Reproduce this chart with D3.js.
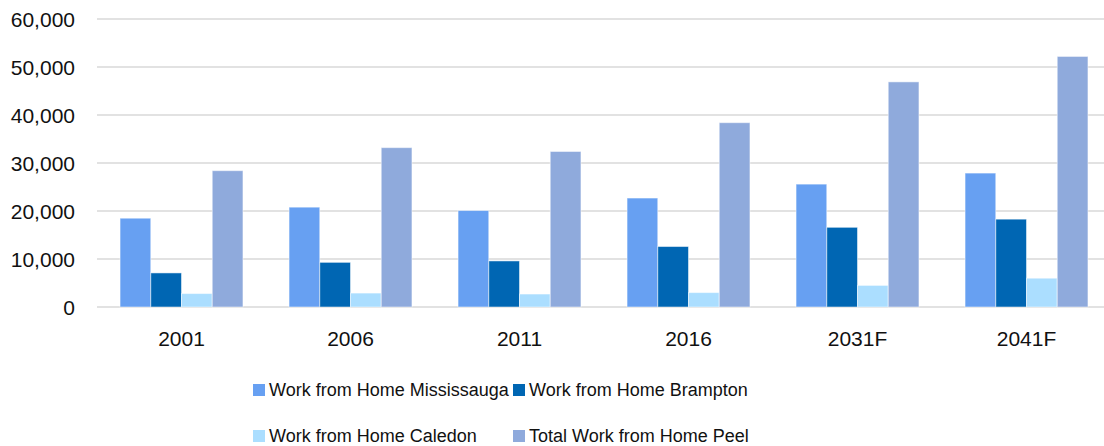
<!DOCTYPE html>
<html>
<head>
  <meta charset="utf-8">
  <title>Work from Home – Peel</title>
  <script src="https://d3js.org/d3.v7.min.js"></script>
  <style>
    html, body {
      margin: 0;
      padding: 0;
      background: #fff;
    }
    svg {
      display: block;
      font-family: "Liberation Sans", Arial, sans-serif;
    }
    .grid line {
      stroke: #d9d9d9;
      stroke-width: 1.5px;
    }
    .tick-label {
      font-size: 21px;
      fill: #111;
    }
    .legend-label {
      font-size: 18px;
      fill: #111;
    }
  </style>
</head>
<body>
  <svg width="1104" height="446"></svg>

  <script>
    // chart data
    const years = ["2001", "2006", "2011", "2016", "2031F", "2041F"];
    const seriesNames = [
      "Work from Home Mississauga",
      "Work from Home Brampton",
      "Work from Home Caledon",
      "Total Work from Home Peel"
    ];
    const mississauga = [18500, 20800, 20100, 22700, 25600, 27900];
    const brampton    = [7100, 9300, 9600, 12600, 16600, 18300];
    const caledon     = [2800, 2900, 2700, 3000, 4500, 6000];
    const totalPeel   = [28400, 33200, 32400, 38400, 46900, 52200];
    const yTicks = [0, 10000, 20000, 30000, 40000, 50000, 60000];

    const colors = ["#67a0f2", "#0066b3", "#abdeff", "#8faadc"];
    const seriesValues = [mississauga, brampton, caledon, totalPeel];

    const svg = d3.select("svg");

    // plot area (right edge runs past the window, like the original)
    const plotLeft = 97, plotRight = 1111, plotTop = 19, plotBottom = 307;

    const x = d3.scaleBand()
      .domain(years)
      .range([plotLeft, plotRight]);

    const xInner = d3.scaleBand()
      .domain(d3.range(seriesNames.length))
      .range([0, x.bandwidth()])
      .paddingOuter(0.75);

    const y = d3.scaleLinear()
      .domain([0, 60000])
      .range([plotBottom, plotTop]);

    // gridlines
    svg.append("g")
      .attr("class", "grid")
      .selectAll("line")
      .data(yTicks)
      .enter().append("line")
      .attr("x1", plotLeft)
      .attr("x2", plotRight)
      .attr("y1", d => y(d))
      .attr("y2", d => y(d));

    // y labels
    svg.append("g")
      .selectAll("text")
      .data(yTicks)
      .enter().append("text")
      .attr("class", "tick-label")
      .attr("x", 75)
      .attr("y", d => y(d))
      .attr("dy", "0.36em")
      .attr("text-anchor", "end")
      .text(d => d3.format(",")(d));

    // bars
    const rows = [];
    years.forEach((yr, i) => {
      seriesValues.forEach((vals, s) => {
        rows.push({ year: yr, s: s, value: vals[i] });
      });
    });

    svg.append("g")
      .selectAll("rect")
      .data(rows)
      .enter().append("rect")
      .attr("x", d => x(d.year) + xInner(d.s))
      .attr("y", d => y(d.value))
      .attr("width", xInner.bandwidth())
      .attr("height", d => plotBottom - y(d.value))
      .attr("fill", d => colors[d.s])
      .attr("stroke", "#ffffff")
      .attr("stroke-opacity", 0.5)
      .attr("stroke-width", 1);

    // x labels
    svg.append("g")
      .selectAll("text")
      .data(years)
      .enter().append("text")
      .attr("class", "tick-label")
      .attr("x", d => x(d) + x.bandwidth() / 2)
      .attr("y", 338)
      .attr("dy", "0.36em")
      .attr("text-anchor", "middle")
      .text(d => d);

    // legend, two columns x two rows
    const legendPos = [
      { x: 253, y: 390 },
      { x: 513, y: 390 },
      { x: 253, y: 436 },
      { x: 513, y: 436 }
    ];

    const legend = svg.append("g")
      .selectAll("g")
      .data(seriesNames)
      .enter().append("g")
      .attr("transform", (d, i) => `translate(${legendPos[i].x},${legendPos[i].y})`);

    legend.append("rect")
      .attr("x", 0)
      .attr("y", -6)
      .attr("width", 12)
      .attr("height", 12)
      .attr("fill", (d, i) => colors[i]);

    legend.append("text")
      .attr("class", "legend-label")
      .attr("x", 16)
      .attr("dy", "0.36em")
      .text(d => d);
  </script>
</body>
</html>
